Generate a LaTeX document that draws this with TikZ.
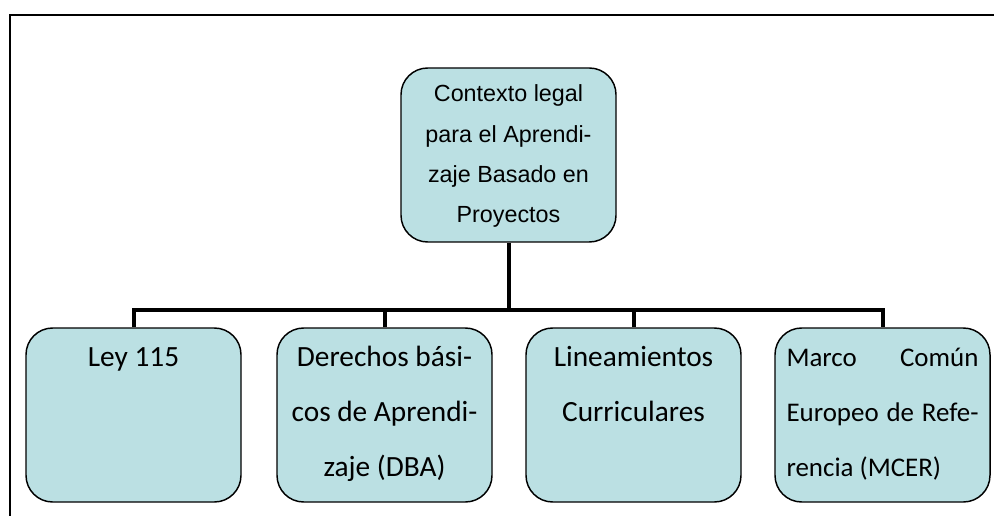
\documentclass[tikz,border=0pt]{standalone}
\usepackage{fontspec}
\setmainfont{Carlito}
\newfontfamily\arialfont{Liberation Sans}
\usepackage{xcolor}
\definecolor{celeste}{RGB}{187,224,227}

% texto de cada caja, pegado arriba
\newcommand{\cajatexto}[2]{\parbox[c][130pt][t]{#1}{\fontsize{22}{41.25}\selectfont\rule{0pt}{28.7pt}#2}}

\begin{document}
\begin{tikzpicture}[x=0.75pt,y=-0.75pt,
	unidad/.style={draw, line width=1.1pt, fill=celeste, rounded corners=20pt,
		minimum width=161.25pt, minimum height=130.5pt, inner sep=0pt},
	conector/.style={line width=3pt},
	marco/.style={line width=1.5pt}]

	\useasboundingbox (0,0) rectangle (994,516);

	% marco
	\draw[marco] (10,516) -- (10,15) -- (994,15);

	% caja principal
	\node[unidad] (raiz) at (508.5,155) {\parbox[c][130pt][t]{150pt}{\centering\arialfont
		\fontsize{17.5}{30.3}\selectfont\rule{0pt}{25pt}Contexto legal\\para el Aprendi-\\zaje Basado en\\Proyectos}};

	% cajas de abajo
	\node[unidad] (ley) at (133.5,415) {\cajatexto{158pt}{\centering Ley 115}};
	\node[unidad] (dba) at (384.5,415) {\cajatexto{158pt}{\centering Derechos bási-\\cos de Aprendi-\\zaje (DBA)}};
	\node[unidad] (lin) at (633.5,415) {\cajatexto{158pt}{\centering Lineamientos\\Curriculares}};
	\node[unidad] (mcer) at (882.5,415) {\cajatexto{144pt}{\fontsize{20.2}{41.25}\selectfont Marco\hfill Común\\
		\makebox[\linewidth][s]{Europeo\hfill de\hfill Refe-}\\rencia (MCER)}};

	% conectores
	\coordinate (barra) at (508,310);
	\draw[conector] (raiz.south) -- (raiz.south |- barra);
	\draw[conector] (ley.north) -- (ley.north |- barra) -- (mcer.north |- barra) -- (mcer.north);
	\foreach \n in {dba,lin}
		\draw[conector] (\n.north) -- (\n.north |- barra);

\end{tikzpicture}
\end{document}
